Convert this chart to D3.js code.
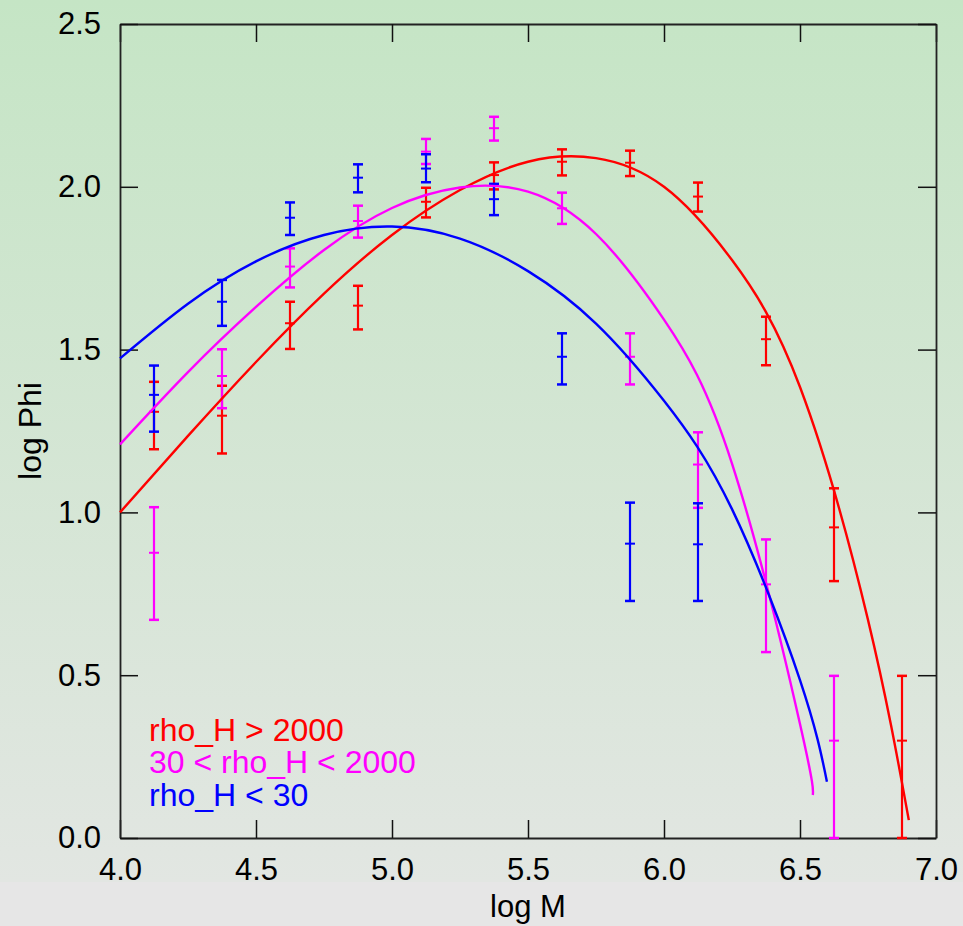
<!DOCTYPE html>
<html>
<head>
<meta charset="utf-8">
<script src="https://cdn.jsdelivr.net/npm/d3@7"></script>
<style>
  body { margin: 0; padding: 0; }
  svg { display: block; }
  text { font-family: "Liberation Sans", Arial, sans-serif; }
</style>
</head>
<body>
<script>
// bin centres (log M)
const logM = [4.125, 4.375, 4.625, 4.875, 5.125, 5.375, 5.625, 5.875, 6.125, 6.375, 6.625, 6.875];

// rho_H > 2000
const redVal = [1.309, 1.297, 1.581, 1.635, 1.954, 2.036, 2.077, 2.074, 1.970, 1.532, 0.954, 0.299],
  redLo = [1.194, 1.181, 1.502, 1.562, 1.906, 1.992, 2.035, 2.033, 1.924, 1.452, 0.789, 0.0],
  redHi = [1.401, 1.389, 1.647, 1.696, 1.997, 2.075, 2.115, 2.111, 2.013, 1.601, 1.074, 0.498];

// 30 < rho_H < 2000
const magVal = [0.876, 1.419, 1.755, 1.895, 2.108, 2.180, 1.934, 1.478, 1.147, 0.779, 0.299],
  magLo = [0.670, 1.320, 1.691, 1.844, 2.070, 2.142, 1.886, 1.393, 1.014, 0.571, 0.0],
  magHi = [1.016, 1.501, 1.811, 1.942, 2.147, 2.215, 1.982, 1.550, 1.246, 0.917, 0.498];

// rho_H < 30
const bluVal = [1.361, 1.647, 1.905, 2.028, 2.056, 1.962, 1.478, 0.904, 0.902],
  bluLo = [1.248, 1.573, 1.852, 1.983, 2.014, 1.913, 1.393, 0.728, 0.728],
  bluHi = [1.451, 1.714, 1.952, 2.069, 2.100, 2.009, 1.550, 1.030, 1.028];

// fitted curves as [log M, log Phi]
const redFit = [[4.0, 1.0], [4.25, 1.235], [4.5, 1.462], [4.75, 1.672], [5.0, 1.852],
  [5.25, 1.99], [5.5, 2.077], [5.75, 2.088], [6.0, 2.0], [6.25, 1.775], [6.5, 1.385],
  [6.75, 0.67], [6.9, 0.055]];
const magFit = [[4.0, 1.209], [4.25, 1.431], [4.5, 1.631], [4.75, 1.806], [5.0, 1.935],
  [5.25, 1.998], [5.5, 1.985], [5.75, 1.855], [6.0, 1.592], [6.25, 1.15], [6.5, 0.35],
  [6.547, 0.132]];
const bluFit = [[4.0, 1.473], [4.25, 1.641], [4.5, 1.771], [4.75, 1.852], [5.0, 1.878],
  [5.25, 1.841], [5.5, 1.741], [5.75, 1.58], [6.0, 1.343], [6.25, 1.01], [6.5, 0.485],
  [6.599, 0.173]];

const legendLabels = ["rho_H > 2000", "30 < rho_H < 2000", "rho_H < 30"];
const xTicks = [4.0, 4.5, 5.0, 5.5, 6.0, 6.5, 7.0],
  yTicks = [0.0, 0.5, 1.0, 1.5, 2.0, 2.5];

const colors = ["#ff0000", "#ff00ff", "#0000ff"];

const W = 963, H = 926,
  plotL = 120, plotR = 936, plotT = 24, plotB = 838;

const svg = d3.select("body").append("svg")
  .attr("width", W)
  .attr("height", H);

// background
const grad = svg.append("defs").append("linearGradient")
  .attr("id", "bg").attr("x1", 0).attr("y1", 0).attr("x2", 0).attr("y2", 1);
grad.append("stop").attr("offset", "0%").attr("stop-color", "#c5e5c5");
grad.append("stop").attr("offset", "100%").attr("stop-color", "#e2e6e2");
svg.append("rect").attr("width", W).attr("height", 882).attr("fill", "url(#bg)");
svg.append("rect").attr("y", 882).attr("width", W).attr("height", H - 882).attr("fill", "#e6e6e6");

const x = d3.scaleLinear().domain([4, 7]).range([plotL, plotR]),
  y = d3.scaleLinear().domain([0, 2.5]).range([plotB, plotT]);

const fmt = d3.format(".1f");

// axes, ticks pointing inward
svg.append("g")
  .attr("transform", `translate(0,${plotB})`)
  .call(d3.axisBottom(x).tickValues(xTicks).tickFormat(fmt).tickSizeInner(-18).tickSizeOuter(0).tickPadding(20));
svg.append("g")
  .attr("transform", `translate(0,${plotT})`)
  .call(d3.axisTop(x).tickValues(xTicks).tickFormat("").tickSizeInner(-18).tickSizeOuter(0));
svg.append("g")
  .attr("transform", `translate(${plotL},0)`)
  .call(d3.axisLeft(y).tickValues(yTicks).tickFormat(fmt).tickSizeInner(-18).tickSizeOuter(0).tickPadding(19));
svg.append("g")
  .attr("transform", `translate(${plotR},0)`)
  .call(d3.axisRight(y).tickValues(yTicks).tickFormat("").tickSizeInner(-18).tickSizeOuter(0));

svg.selectAll(".domain").attr("stroke", "#222").attr("stroke-width", 1.8);
svg.selectAll(".tick line").attr("stroke", "#111").attr("stroke-width", 1.5);
svg.selectAll(".tick text").attr("font-size", 31).attr("fill", "#000")
  .attr("font-family", "'Liberation Sans', Arial, sans-serif");

// axis titles
svg.append("text")
  .attr("x", (plotL + plotR) / 2).attr("y", 917)
  .attr("text-anchor", "middle").attr("font-size", 31)
  .text("log M");
svg.append("text")
  .attr("transform", "translate(41,431) rotate(-90)")
  .attr("text-anchor", "middle").attr("font-size", 32)
  .text("log Phi");

// error bars
const series = [
  { val: redVal, lo: redLo, hi: redHi },
  { val: magVal, lo: magLo, hi: magHi },
  { val: bluVal, lo: bluLo, hi: bluHi },
];

series.forEach((s, k) => {
  const g = svg.append("g").attr("stroke", colors[k]).attr("fill", "none");
  s.val.forEach((v, i) => {
    const cx = x(logM[i]);
    g.append("line").attr("x1", cx).attr("x2", cx)
      .attr("y1", y(s.lo[i])).attr("y2", y(s.hi[i])).attr("stroke-width", 2.2);
    [s.lo[i], s.hi[i]].forEach(e => {
      g.append("line").attr("x1", cx - 5).attr("x2", cx + 5)
        .attr("y1", y(e)).attr("y2", y(e)).attr("stroke-width", 2.5);
    });
    g.append("line").attr("x1", cx - 5).attr("x2", cx + 5)
      .attr("y1", y(v)).attr("y2", y(v)).attr("stroke-width", 2);
  });
});

// fitted curves
const line = d3.line()
  .x(d => x(d[0]))
  .y(d => y(d[1]))
  .curve(d3.curveNatural);

[redFit, magFit, bluFit].forEach((f, k) => {
  svg.append("path")
    .attr("d", line(f))
    .attr("fill", "none")
    .attr("stroke", colors[k])
    .attr("stroke-width", 2.4);
});

// legend
legendLabels.forEach((t, k) => {
  svg.append("text")
    .attr("x", 149).attr("y", 740.5 + k * 32.7)
    .attr("font-size", 32)
    .attr("fill", colors[k])
    .text(t);
});
</script>
</body>
</html>
